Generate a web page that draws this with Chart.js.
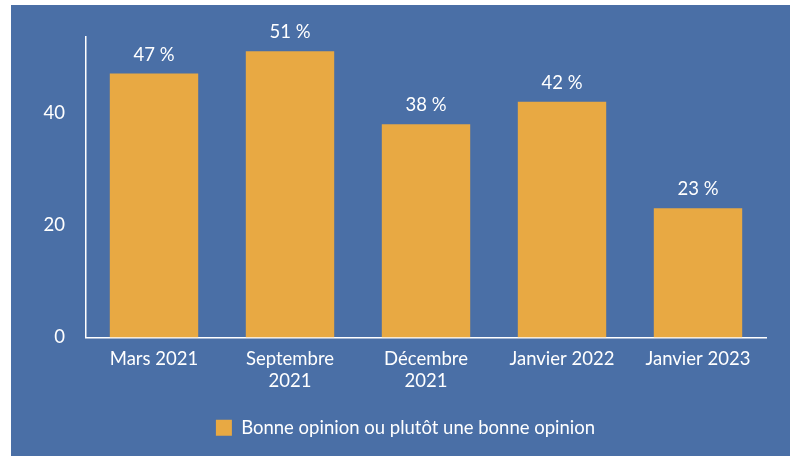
<!DOCTYPE html>
<html>
<head>
<meta charset="utf-8">
<script src="https://cdn.jsdelivr.net/npm/chart.js@4"></script>
<style>
  body { margin: 0; background: #ffffff; }
  #panel { position: absolute; left: 11px; top: 5px; width: 779px; height: 451px; background: #4a6fa6; }
</style>
</head>
<body>
<div id="panel"><canvas id="myChart"></canvas></div>
<script>
// données
const periodes = [['Mars 2021'], ['Septembre', '2021'], ['Décembre', '2021'], ['Janvier 2022'], ['Janvier 2023']];
const bonneOpinion = [47, 51, 38, 42, 23];
const ticksY = [0, 20, 40];
const nomSerie = 'Bonne opinion ou plutôt une bonne opinion';

const blanc = '#ffffff';
const orange = '#e8a943';

// etiquettes au-dessus des barres (pas de plugin datalabels dispo)
const etiquettes = {
    id: 'etiquettes',
    afterDatasetsDraw(chart) {
        const ctx = chart.ctx;
        const meta = chart.getDatasetMeta(0);
        ctx.save();
        ctx.fillStyle = blanc;
        ctx.font = '18.5px Lato';
        ctx.textAlign = 'center';
        ctx.textBaseline = 'middle';
        meta.data.forEach((bar, i) => {
            ctx.fillText(bonneOpinion[i] + ' %', bar.x, bar.y - 19);
        });
        ctx.restore();
    }
};

Chart.defaults.font.family = 'Lato';
Chart.defaults.font.size = 18.5;
Chart.defaults.color = blanc;

const ctx = document.getElementById('myChart').getContext('2d');
const myChart = new Chart(ctx, {
    type: 'bar',
    data: {
        labels: periodes,
        datasets: [{
            label: nomSerie,
            data: bonneOpinion,
            backgroundColor: orange,
            barPercentage: 0.65,
            categoryPercentage: 1
        }]
    },
    options: {
        responsive: true,
        maintainAspectRatio: false,
        animation: false,
        layout: { padding: { top: 31, right: 0, bottom: 9, left: 10 } },
        scales: {
            y: {
                min: 0,
                max: 53.5,
                afterFit: (scale) => { scale.width = 65; },
                afterBuildTicks: (scale) => { scale.ticks = ticksY.map(v => ({ value: v })); },
                grid: { display: false, drawTicks: false },
                border: { display: true, color: blanc, width: 1.5 },
                ticks: { color: blanc, padding: 21 }
            },
            // axe vide a droite juste pour la marge
            y2: {
                position: 'right',
                afterFit: (scale) => { scale.width = 24; },
                grid: { display: false, drawTicks: false },
                border: { display: false },
                ticks: { display: false }
            },
            x: {
                afterFit: (scale) => { scale.height = 71; },
                grid: { display: false, drawTicks: false },
                border: { display: true, color: blanc, width: 1.5 },
                ticks: { color: blanc, padding: 10, maxRotation: 0 }
            }
        },
        plugins: {
            legend: {
                position: 'bottom',
                labels: { boxWidth: 16, boxHeight: 16, color: blanc, padding: 10 }
            },
            tooltip: { enabled: false }
        }
    },
    plugins: [etiquettes]
});
</script>
</body>
</html>
